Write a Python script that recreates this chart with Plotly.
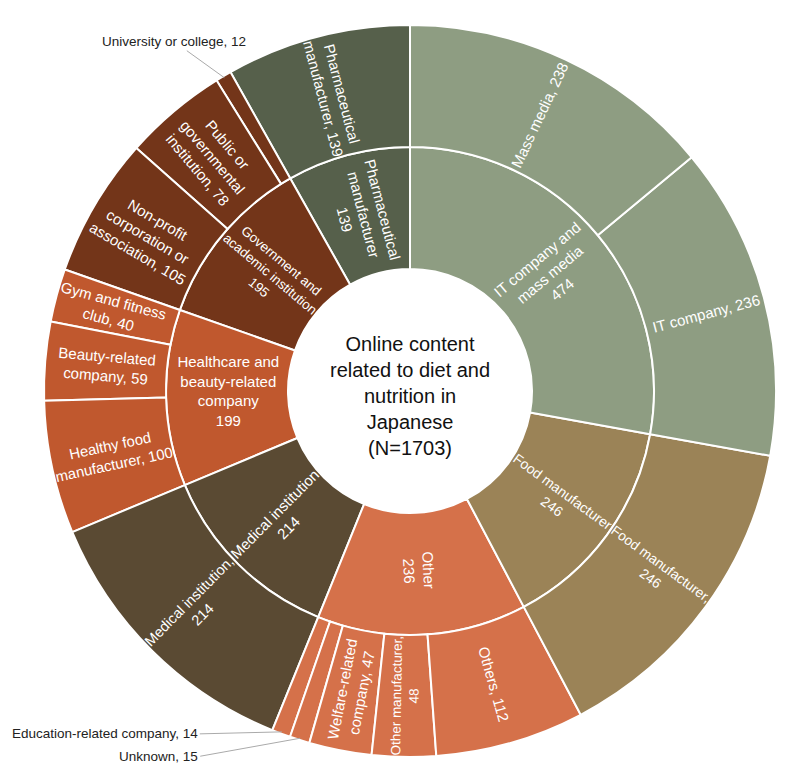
import math
import plotly.graph_objects as go

# ---- data ----
root_label = "Online content related to diet and nutrition in Japanese"
total_n = 1703

groups = ["Pharmaceutical manufacturer", "Government and academic institution",
          "Healthcare and beauty-related company", "Medical institution",
          "Other", "Food manufacturer", "IT company and mass media"]
group_values = [139, 195, 199, 214, 236, 246, 474]
group_text = ["Pharmaceutical<br>manufacturer<br>139", "Government and<br>academic institution<br>195",
              "Healthcare and<br>beauty-related<br>company<br>199", "Medical institution<br>214",
              "Other<br>236", "Food manufacturer<br>246", "IT company and<br>mass media<br>474"]
group_colors = ["#56604B", "#733519", "#C0582E", "#5A4A33", "#D5714A", "#9B8357", "#8E9D82"]

sub_parent = ["Pharmaceutical manufacturer",
              "Government and academic institution", "Government and academic institution", "Government and academic institution",
              "Healthcare and beauty-related company", "Healthcare and beauty-related company", "Healthcare and beauty-related company",
              "Medical institution",
              "Other", "Other", "Other", "Other", "Other",
              "Food manufacturer",
              "IT company and mass media", "IT company and mass media"]
sub_labels = ["Pharmaceutical manufacturer",
              "University or college", "Public or governmental institution", "Non-profit corporation or association",
              "Gym and fitness club", "Beauty-related company", "Healthy food manufacturer",
              "Medical institution",
              "Education-related company", "Unknown", "Welfare-related company", "Other manufacturer", "Others",
              "Food manufacturer",
              "IT company", "Mass media"]
sub_values = [139, 12, 78, 105, 40, 59, 100, 214, 14, 15, 47, 48, 112, 246, 236, 238]
sub_text = ["Pharmaceutical<br>manufacturer, 139",
            "", "Public or<br>governmental<br>institution, 78", "Non-profit<br>corporation or<br>association, 105",
            "Gym and fitness<br>club, 40", "Beauty-related<br>company, 59", "Healthy food<br>manufacturer, 100",
            "Medical institution,<br>214",
            "", "", "Welfare-related<br>company, 47", "Other manufacturer,<br>48", "Others, 112",
            "Food manufacturer,<br>246",
            "", "Mass media, 238"]
outside_labels = ["University or college", "Education-related company", "Unknown"]
midangle_labels = ["IT company"]   # drawn along the slice's middle radius

# ---- build sunburst ----
ids = ["root"] + ["g:" + g for g in groups] + ["s:" + p + ":" + l for p, l in zip(sub_parent, sub_labels)]
labels = [root_label] + groups + sub_labels
parents = [""] + ["root"] * len(groups) + ["g:" + p for p in sub_parent]
values = [total_n] + group_values + sub_values
texts = [""] + group_text + sub_text
cmap = dict(zip(groups, group_colors))
colors = ["#FFFFFF"] + group_colors + [cmap[p] for p in sub_parent]

FONT = "Liberation Sans, Arial, Helvetica, sans-serif"

fig = go.Figure(go.Sunburst(
    ids=ids, labels=labels, parents=parents, values=values, text=texts,
    branchvalues="total", sort=False, rotation=90,
    texttemplate="%{text}", textinfo="text",
    insidetextorientation="radial",
    leaf=dict(opacity=1),
    marker=dict(colors=colors, line=dict(color="#FFFFFF", width=2)),
    textfont=dict(family=FONT, size=15, color="#FFFFFF"),
    hoverinfo="label+value",
))

ML, MR, MT, MB = 36, 32, 17, 35
W, H = 800, 784
pw, ph = W - ML - MR, H - MT - MB
R = min(pw, ph) / 2.0

annotations = [dict(
    x=0.5, y=0.5, xref="paper", yref="paper", showarrow=False, yshift=-5,
    xanchor="center", yanchor="middle",
    text="Online content<br>related to diet and<br>nutrition in<br>Japanese<br>(N=" + str(total_n) + ")",
    font=dict(family=FONT, size=20, color="#111111"),
)]

# labels for the tiny slices (leader lines) and mid-angle labels, positioned from data angles
cum = 0
for p in groups:
    for pl, l, v in zip(sub_parent, sub_labels, sub_values):
        if pl != p:
            continue
        mid = cum + v / 2.0
        deg = 90 + mid / total_n * 360
        ang = math.radians(deg)
        if l in outside_labels:
            tx = 0.5 + (R * 0.995) * math.cos(ang) / pw
            ty = 0.5 + (R * 0.995) * math.sin(ang) / ph
            if l == "University or college":
                ax, ay, xa = -50, -36, "center"
            elif l == "Education-related company":
                ax, ay, xa = -82, 2, "right"
            else:
                ax, ay, xa = -100, 18, "right"
            annotations.append(dict(
                x=tx, y=ty, xref="paper", yref="paper",
                text=l + ", " + str(v), showarrow=True, arrowhead=0,
                arrowwidth=1, arrowcolor="#AAAAAA", ax=ax, ay=ay,
                xanchor=xa, standoff=0, startstandoff=0,
                font=dict(family=FONT, size=13.5, color="#222222"),
            ))
        elif l in midangle_labels:
            rr = R * 0.835
            tx = 0.5 + rr * math.cos(ang) / pw
            ty = 0.5 + rr * math.sin(ang) / ph
            tilt = -((deg + 180) % 360 - 180)
            annotations.append(dict(
                x=tx, y=ty, xref="paper", yref="paper", showarrow=False,
                xanchor="center", yanchor="middle",
                text=l + ", " + str(v), textangle=tilt,
                font=dict(family=FONT, size=15, color="#FFFFFF"),
            ))
        cum += v

fig.update_layout(
    width=W, height=H,
    margin=dict(l=ML, r=MR, t=MT, b=MB),
    paper_bgcolor="#FFFFFF",
    annotations=annotations,
    showlegend=False,
)

fig.write_html("out.html")
